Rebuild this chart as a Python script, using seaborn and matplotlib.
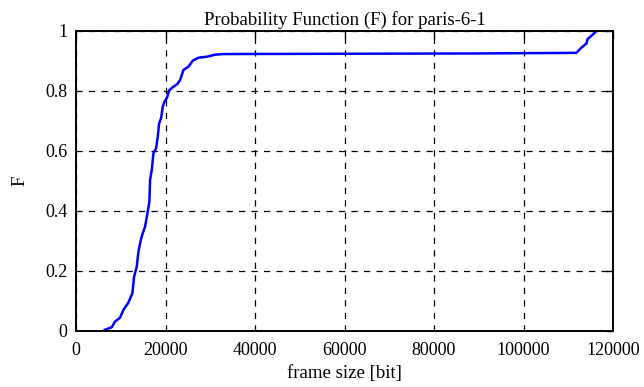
import numpy as np
import pandas as pd
import seaborn as sns
import matplotlib
matplotlib.use("Agg")
import matplotlib.pyplot as plt

sns.set_style("white")
plt.rcParams['font.family'] = ['Liberation Serif', 'DejaVu Serif']
plt.rcParams['text.color'] = 'black'
plt.rcParams['axes.labelcolor'] = 'black'

# CDF of frame sizes
frame_size = [6330, 7980, 8720, 9840, 10590, 11700, 12600, 12970, 13570, 13950,
              14470, 14920, 15440, 15960, 16400, 16550, 16930, 17300, 17900, 18270,
              18570, 19010, 19390, 19760, 20290, 20870, 21770, 22660, 23270, 24010,
              25120, 26100, 27360, 29230, 31100, 32960, 60000, 90000, 111800, 112750,
              114100, 114250, 115370, 116330]
prob = [0.003, 0.012, 0.031, 0.044, 0.070, 0.094, 0.126, 0.180, 0.214, 0.264,
        0.303, 0.326, 0.348, 0.392, 0.431, 0.503, 0.537, 0.592, 0.609, 0.648,
        0.692, 0.709, 0.748, 0.764, 0.776, 0.803, 0.814, 0.823, 0.837, 0.870,
        0.881, 0.901, 0.911, 0.914, 0.921, 0.923, 0.924, 0.925, 0.927, 0.942,
        0.959, 0.972, 0.987, 1.000]

x_ticks = [0, 20000, 40000, 60000, 80000, 100000, 120000]
y_ticks = [0, 0.2, 0.4, 0.6, 0.8, 1]
y_labels = ["0", "0.2", "0.4", "0.6", "0.8", "1"]

df = pd.DataFrame({'frame size': frame_size, 'F': prob})

fig, ax = plt.subplots(figsize=(6.44, 3.87), dpi=100)
fig.subplots_adjust(left=0.118, right=0.952, top=0.92, bottom=0.145)

sns.lineplot(data=df, x='frame size', y='F', ax=ax, color='#0000ff',
             linewidth=1.8, estimator=None, sort=False)

ax.set_xlim(0, 120000)
ax.set_ylim(0, 1)
ax.set_xticks(x_ticks)
ax.set_xticklabels([str(t) for t in x_ticks])
ax.set_yticks(y_ticks)
ax.set_yticklabels(y_labels)
ax.grid(True, color='black', linestyle=(0, (5, 5)), linewidth=0.9)
ax.tick_params(direction='in', length=5, width=1, top=True, right=True,
               labelsize=13, colors='black')
ax.tick_params(axis='x', pad=8)
ax.tick_params(axis='y', pad=6)
for s in ax.spines.values():
    s.set_color('black')
    s.set_linewidth(1.4)

ax.set_xlabel('frame size [bit]', fontsize=13.5, labelpad=4)
ax.set_ylabel('F', fontsize=13.5, labelpad=12)
ax.set_title('Probability Function (F) for paris-6-1', fontsize=13.5, pad=4)

fig.savefig('out.png', dpi=100)
